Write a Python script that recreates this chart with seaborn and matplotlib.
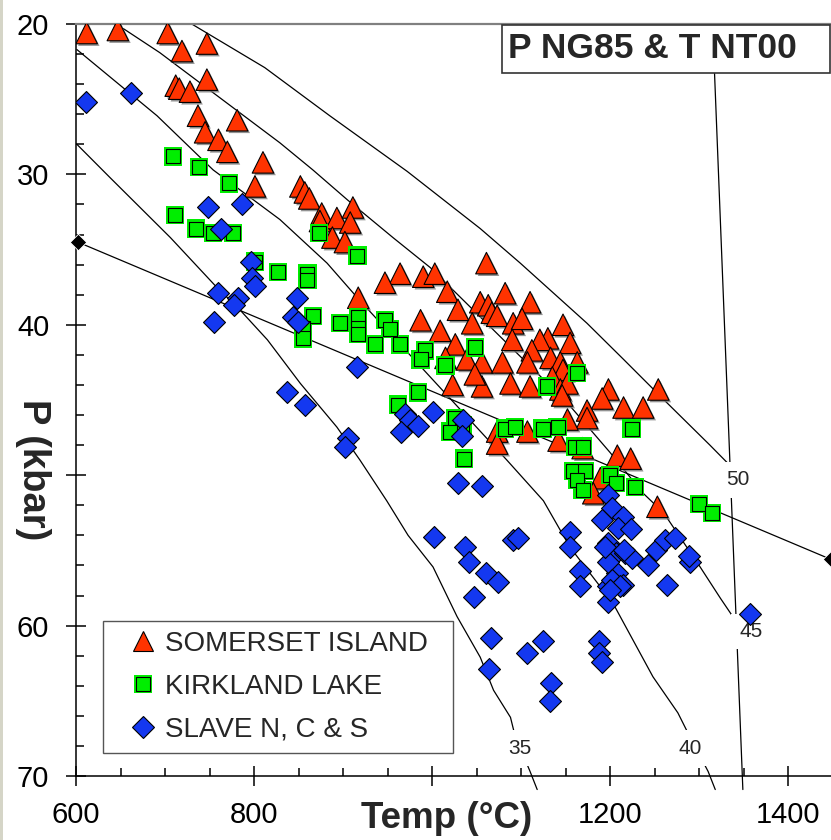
import matplotlib
matplotlib.use("Agg")
import matplotlib.pyplot as plt
import matplotlib.patheffects as pe
from matplotlib.lines import Line2D
from matplotlib.legend_handler import HandlerTuple
from matplotlib.patches import Rectangle
from matplotlib.ticker import MultipleLocator, FixedLocator
import seaborn as sns

# ---------------- data ----------------
som_T = [612, 647, 703, 719, 747, 712, 716, 747, 728, 737,
         781, 745, 760, 770, 810, 801, 852, 857, 862, 876,
         874, 893, 911, 908, 888, 902, 964, 990, 1003, 947,
         1061, 917, 1054, 1082, 1110, 1063, 1067, 1073, 1091, 1101,
         1045, 1147, 1130, 1121, 1090, 1112, 1155, 1133, 1144, 1163,
         1056, 1079, 1107, 1147, 1135, 1144, 1152, 1056, 1088, 1110,
         1146, 1198, 1254, 1191, 1215, 1237, 1174, 1174, 1152, 1107,
         1142, 1169, 1208, 1223, 1189, 1181, 1253, 1017, 1029, 987,
         1009, 1026, 1015, 1039, 1048, 1023, 1073, 1073]
som_P = [20.6, 20.4, 20.6, 21.8, 21.3, 24.1, 24.3, 23.7, 24.5, 26.1,
         26.4, 27.2, 27.7, 28.5, 29.2, 30.8, 30.8, 31.2, 31.6, 32.6,
         33.1, 32.9, 32.2, 33.2, 34.2, 34.5, 36.6, 36.8, 36.6, 37.2,
         35.9, 38.2, 38.5, 37.9, 38.5, 38.7, 39.2, 39.4, 39.9, 39.6,
         39.9, 40.0, 40.9, 41.0, 41.0, 41.7, 41.2, 42.2, 42.5, 42.5,
         42.5, 42.5, 42.5, 43.0, 43.5, 44.3, 43.9, 44.1, 43.9, 44.1,
         44.7, 44.3, 44.3, 44.9, 45.5, 45.5, 45.7, 46.2, 46.3, 47.1,
         47.7, 48.2, 48.7, 48.9, 50.2, 51.2, 52.1, 37.8, 39.0, 39.7,
         40.4, 41.3, 42.2, 42.3, 43.3, 44.0, 47.1, 47.9]

kl_T = [709, 738, 772, 711, 735, 754, 776, 801, 827, 860,
        860, 873, 916, 866, 855, 855, 897, 917, 917, 917,
        1048, 1163, 1129, 1124, 1141, 1161, 1169, 1224, 1158, 1172,
        1163, 1169, 1200, 1206, 1228, 1300, 1314, 947, 953, 936,
        964, 992, 987, 1015, 962, 984, 1026, 1034, 1020, 1036,
        1082, 1093]
kl_P = [28.8, 29.5, 30.6, 32.7, 33.6, 33.9, 33.9, 35.8, 36.5, 36.6,
        37.0, 33.9, 35.4, 39.4, 40.2, 40.9, 39.9, 39.5, 40.2, 40.6,
        41.5, 43.2, 44.1, 46.9, 46.8, 48.1, 48.1, 46.9, 49.7, 49.7,
        50.3, 51.0, 50.0, 50.5, 50.8, 51.9, 52.5, 39.7, 40.3, 41.3,
        41.3, 41.7, 42.3, 42.7, 45.3, 44.5, 46.2, 46.7, 47.1, 48.9,
        46.9, 46.8]

sl_T = [611, 662, 748, 787, 763, 796, 798, 801, 760, 782,
        778, 755, 848, 844, 849, 837, 857, 905, 902, 916,
        1029, 1056, 1002, 1037, 1041, 1060, 1074, 1047, 1091, 1097,
        1066, 1124, 1107, 1064, 1133, 1132, 1155, 1155, 1166, 1166,
        1197, 1197, 1187, 1187, 1191, 1208, 1214, 1242, 1264, 1290,
        1357, 1198, 1202, 1214, 1209, 1223, 1197, 1206, 1217, 1225,
        1197, 1202, 1211, 1200, 1251, 1262, 1273, 1191, 1194, 1215,
        1288, 970, 975, 984, 965, 1001, 1035, 1034]
sl_P = [25.2, 24.6, 32.2, 32.0, 33.6, 35.8, 36.9, 37.4, 37.9, 38.2,
        38.7, 39.8, 38.2, 39.5, 39.8, 44.5, 45.3, 47.5, 48.1, 42.8,
        50.5, 50.7, 54.1, 54.8, 55.8, 56.5, 57.1, 58.1, 54.3, 54.2,
        60.8, 61.0, 61.8, 62.9, 63.8, 65.0, 53.8, 54.8, 56.4, 57.4,
        57.4, 58.4, 61.0, 61.8, 62.4, 56.5, 57.3, 56.0, 57.3, 55.8,
        59.2, 51.3, 52.2, 52.8, 53.5, 53.6, 54.5, 55.2, 55.2, 55.5,
        55.8, 57.0, 57.4, 57.6, 55.0, 54.3, 54.2, 53.0, 54.8, 55.0,
        55.4, 45.9, 46.3, 46.7, 47.1, 45.8, 46.3, 47.4]

# geotherms (mW/m2)
g50_T = [730, 812, 885, 972, 1054, 1099, 1174, 1215, 1264, 1312, 1332]
g50_P = [20.0, 22.9, 26.1, 29.8, 33.6, 35.9, 39.9, 42.3, 45.2, 48.0, 49.2]
g45_T = [653, 694, 739, 829, 866, 905, 956, 998, 1152, 1200, 1237, 1260, 1301, 1324, 1340]
g45_P = [20.3, 21.9, 23.9, 27.9, 29.7, 31.7, 34.2, 36.2, 45.2, 48.5, 51.2, 52.5, 56.1, 58.2, 59.6]
g40_T = [601, 691, 754, 829, 882, 919, 1084, 1125, 1155, 1203, 1248, 1276, 1287, 1310, 1318]
g40_P = [21.7, 26.1, 29.7, 33.0, 35.9, 38.4, 49.0, 51.7, 54.8, 58.5, 63.4, 65.8, 67.1, 69.7, 70.9]
g35_T = [601, 638, 706, 758, 784, 815, 852, 893, 919, 949, 973, 1001, 1028, 1054, 1069, 1088, 1093, 1110, 1118]
g35_P = [28.0, 30.2, 34.2, 37.5, 39.0, 41.0, 43.9, 46.8, 49.0, 51.7, 54.0, 56.1, 59.4, 62.1, 64.3, 66.1, 67.3, 69.7, 70.9]
vert_T = [1315, 1349]
vert_P = [20.0, 70.9]
gd_T = [602, 1448]
gd_P = [34.5, 55.6]

geo_labels = ["35", "40", "45", "50"]
geo_lab_T = [1099, 1290, 1358, 1343]
geo_lab_P = [68.15, 68.15, 60.4, 50.3]

series_names = ["SOMERSET ISLAND", "KIRKLAND LAKE", "SLAVE N, C & S"]
x_ticks = [600, 800, 1000, 1200, 1400]
x_ticklabels = ["600", "800", "", "1200", "1400"]
y_ticks = [20, 30, 40, 50, 60, 70]
y_ticklabels = ["20", "30", "40", "", "60", "70"]

# ---------------- style ----------------
sns.set_theme(style="white")
plt.rcParams["font.family"] = ["Liberation Sans", "DejaVu Sans"]

W, H = 831, 840
fig = plt.figure(figsize=(W / 100, H / 100), dpi=100)
fig.patch.set_facecolor("white")
ax = fig.add_axes([76 / W, 1 - 776 / H, 755 / W, 752 / H])

RED = "#ff3300"
GREEN = "#00ee00"
BLUE = "#1438f0"

# lines
for tt, pp in [(g50_T, g50_P), (g45_T, g45_P), (g40_T, g40_P), (g35_T, g35_P),
               (vert_T, vert_P), (gd_T, gd_P)]:
    sns.lineplot(x=tt, y=pp, sort=False, estimator=None, color="black",
                 lw=0.9, ax=ax, clip_on=False, zorder=2)

for lab, tx, py in zip(geo_labels, geo_lab_T, geo_lab_P):
    ax.text(tx, py, lab, ha="center", va="center", fontsize=15, zorder=3,
            bbox=dict(boxstyle="square,pad=0.4", fc="white", ec="none"))

sns.scatterplot(x=gd_T, y=gd_P, marker="D", s=70, color="black",
                edgecolor="white", linewidth=0.6, ax=ax, zorder=6,
                clip_on=False, legend=False)

# data points
sns.scatterplot(x=som_T, y=som_P, marker="^", s=240, color=RED,
                edgecolor="black", linewidth=0.8, ax=ax, zorder=4, legend=False)
ax.collections[-1].set_path_effects(
    [pe.SimplePatchShadow(offset=(1.5, -1.5), shadow_rgbFace="#777777", alpha=0.8),
     pe.Normal()])
sns.scatterplot(x=kl_T, y=kl_P, marker="s", s=175, color=GREEN,
                edgecolor="none", linewidth=0, ax=ax, zorder=5, legend=False)
sns.scatterplot(x=kl_T, y=kl_P, marker="s", s=100, color=GREEN,
                edgecolor="black", linewidth=0.8, ax=ax, zorder=5, legend=False)
sns.scatterplot(x=sl_T, y=sl_P, marker="D", s=125, color=BLUE,
                edgecolor="black", linewidth=0.8, ax=ax, zorder=6, legend=False)

# axes
ax.set_xlim(600, 1448)
ax.set_ylim(70, 20)
ax.xaxis.set_major_locator(FixedLocator(x_ticks))
ax.set_xticklabels(x_ticklabels)
ax.xaxis.set_minor_locator(MultipleLocator(50))
ax.yaxis.set_major_locator(FixedLocator(y_ticks))
ax.set_yticklabels(y_ticklabels)
ax.yaxis.set_minor_locator(MultipleLocator(2))
ax.tick_params(which="both", bottom=True, left=True, top=False, right=False)
ax.tick_params(which="major", direction="inout", length=14.4, width=1.1,
               labelsize=21, color="black", labelcolor="black")
ax.tick_params(axis="x", which="major", pad=11)
ax.tick_params(axis="y", which="major", pad=12)
ax.tick_params(which="minor", direction="in", length=5.8, width=1.1, color="black")
ax.set_xlabel("")
ax.set_ylabel("")
for s in ["left", "bottom"]:
    ax.spines[s].set_color("black")
    ax.spines[s].set_linewidth(1.1)
ax.spines["right"].set_visible(False)
ax.spines["top"].set_color("#808080")
ax.spines["top"].set_linewidth(1.6)

fig.text(447 / W, 1 - 818 / H, "Temp (\u00b0C)", ha="center", va="center",
         fontsize=26.5, fontweight="bold")
fig.text(33 / W, 1 - 470 / H, "P (kbar)", ha="center", va="center",
         fontsize=27.5, fontweight="bold", rotation=270)

# legend
h_tri = Line2D([], [], ls="none", marker="^", ms=15, mfc=RED, mec="black", mew=0.8)
h_sq_o = Line2D([], [], ls="none", marker="s", ms=13, mfc=GREEN, mec=GREEN, mew=0)
h_sq_i = Line2D([], [], ls="none", marker="s", ms=9.5, mfc=GREEN, mec="black", mew=0.8)
h_dia = Line2D([], [], ls="none", marker="D", ms=11, mfc=BLUE, mec="black", mew=0.8)
leg = ax.legend([h_tri, (h_sq_o, h_sq_i), h_dia], series_names,
                handler_map={tuple: HandlerTuple(ndivide=1, pad=0)},
                loc="lower left", bbox_to_anchor=(103 / W, 1 - 753 / H, 350 / W, 130 / H),
                bbox_transform=fig.transFigure, mode="expand", frameon=True,
                fancybox=False, edgecolor="#555555", framealpha=1, fontsize=20,
                borderpad=0.38, handlelength=2.1, handletextpad=-0.25,
                labelspacing=0.6, borderaxespad=0)
leg.get_frame().set_linewidth(1.0)
leg.set_zorder(8)

# title box
fig.add_artist(Rectangle((502 / W, 1 - 73 / H), 328 / W, 48 / H,
                         transform=fig.transFigure, fc="white", ec="#333333",
                         lw=1.2, zorder=10))
fig.text(652 / W, 1 - 48 / H, "P NG85 & T NT00", ha="center", va="center",
         fontsize=25.5, fontweight="bold", zorder=11)

# left strip
fig.add_artist(Rectangle((0, 0), 3 / W, 1, transform=fig.transFigure,
                         fc="#d5d5c7", ec="none", zorder=0))

fig.savefig("out.png", dpi=100, facecolor="white")
